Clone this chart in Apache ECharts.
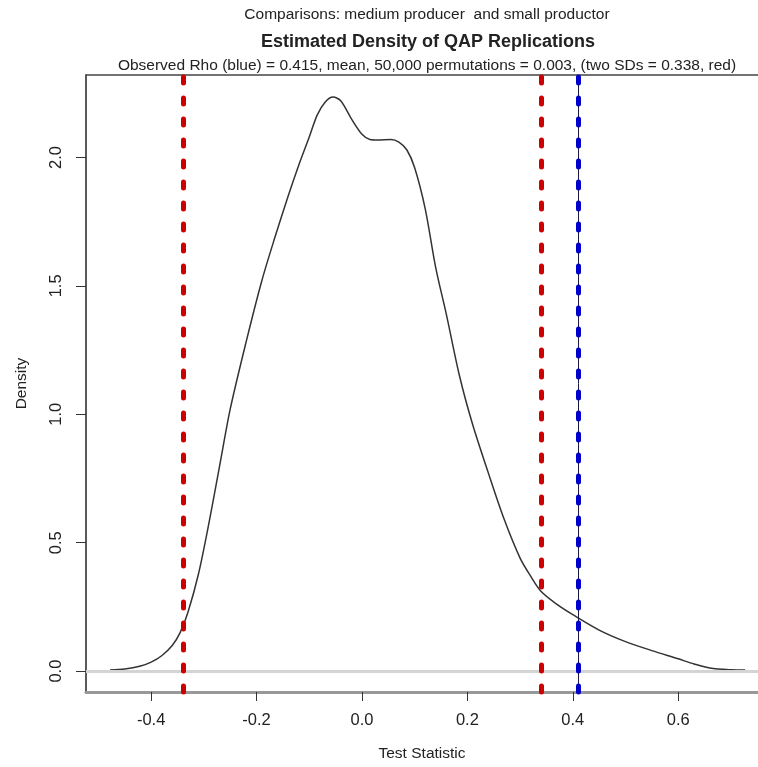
<!DOCTYPE html>
<html>
<head>
<meta charset="utf-8">
<script src="https://cdn.jsdelivr.net/npm/echarts@6/dist/echarts.min.js"></script>
<style>
  html, body { margin: 0; padding: 0; background: #fff; }
  #chart { width: 758px; height: 767px; }
</style>
</head>
<body>
<div id="chart"></div>
<script>
// density estimate
const densityX = [-0.478, -0.45, -0.42, -0.40, -0.38, -0.36, -0.345, -0.33, -0.31, -0.29,
  -0.27, -0.25, -0.22, -0.19, -0.165, -0.14, -0.12, -0.10, -0.085, -0.07,
  -0.055, -0.04, -0.02, 0.0, 0.015, 0.03, 0.055, 0.07, 0.085, 0.10,
  0.12, 0.14, 0.16, 0.185, 0.21, 0.24, 0.27, 0.30, 0.32, 0.34,
  0.37, 0.40, 0.45, 0.50, 0.55, 0.60, 0.63, 0.66, 0.70, 0.727];
const densityY = [0.004, 0.008, 0.02, 0.035, 0.06, 0.10, 0.15, 0.23, 0.38, 0.58,
  0.80, 1.02, 1.28, 1.52, 1.69, 1.85, 1.97, 2.08, 2.165, 2.215,
  2.235, 2.22, 2.15, 2.09, 2.07, 2.068, 2.07, 2.06, 2.03, 1.96,
  1.80, 1.57, 1.39, 1.15, 0.96, 0.77, 0.59, 0.44, 0.37, 0.31,
  0.26, 0.22, 0.16, 0.115, 0.08, 0.048, 0.028, 0.012, 0.005, 0.004];

const redLines = [-0.338, 0.338];   // two SDs
const blueLine = 0.415;             // observed rho
const xTicks = [-0.4, -0.2, 0.0, 0.2, 0.4, 0.6];
const yTicks = [0.0, 0.5, 1.0, 1.5, 2.0];

const font = '"Liberation Sans", Arial, sans-serif';
const textColor = '#222';

const chart = echarts.init(document.getElementById('chart'));

const xMin = -0.5236, xMax = 0.7514;

chart.setOption({
  animation: false,
  backgroundColor: '#fff',
  grid: { left: 86, top: 75, right: 0, bottom: 71, show: false },
  graphic: [
    {
      type: 'text', x: 427, y: 15,
      style: { text: 'Comparisons: medium producer  and small productor', font: '15.5px ' + font,
        fill: textColor, textAlign: 'center', textVerticalAlign: 'middle' }
    },
    {
      type: 'text', x: 428, y: 42,
      style: { text: 'Estimated Density of QAP Replications', font: 'bold 18px ' + font,
        fill: textColor, textAlign: 'center', textVerticalAlign: 'middle' }
    },
    {
      type: 'text', x: 427, y: 66,
      style: { text: 'Observed Rho (blue) = 0.415, mean, 50,000 permutations = 0.003, (two SDs = 0.338, red)',
        font: '15.5px ' + font, fill: textColor, textAlign: 'center', textVerticalAlign: 'middle' }
    }
  ],
  xAxis: [
    {
      type: 'value', min: xMin, max: xMax,
      name: 'Test Statistic', nameLocation: 'middle', nameGap: 54,
      nameTextStyle: { fontFamily: font, fontSize: 15.5, color: textColor },
      splitLine: { show: false },
      axisLine: { show: true, onZero: false, lineStyle: { color: '#999', width: 3 } },
      axisTick: { show: true, length: 9, customValues: xTicks, lineStyle: { color: '#333', width: 1 } },
      axisLabel: {
        customValues: xTicks, margin: 20, fontFamily: font, fontSize: 16.5, color: textColor,
        formatter: v => v.toFixed(1)
      }
    },
    {
      type: 'value', min: xMin, max: xMax, position: 'top',
      splitLine: { show: false },
      axisLine: { show: true, onZero: false, lineStyle: { color: '#444', width: 1.5 } },
      axisTick: { show: false },
      axisLabel: { show: false }
    }
  ],
  yAxis: {
    type: 'value', min: -0.0812, max: 2.321,
    name: 'Density', nameLocation: 'middle', nameGap: 56, nameRotate: 90,
    nameTextStyle: { fontFamily: font, fontSize: 15.5, color: textColor },
    splitLine: { show: false },
    axisLine: { show: true, onZero: false, lineStyle: { color: '#222', width: 1.5 } },
    axisTick: { show: true, length: 10, customValues: yTicks, lineStyle: { color: '#333', width: 1 } },
    axisLabel: {
      customValues: yTicks, rotate: 90, margin: 21, fontFamily: font, fontSize: 16.5, color: textColor,
      formatter: v => v.toFixed(1)
    }
  },
  series: [
    {
      type: 'line',
      data: densityX.map((x, i) => [x, densityY[i]]),
      smooth: 0.3,
      symbol: 'none',
      lineStyle: { color: '#333', width: 1.5 },
      z: 3,
      markLine: {
        silent: true, symbol: 'none', label: { show: false },
        data: [
          { yAxis: 0, lineStyle: { color: '#d4d4d4', width: 3, type: 'solid' } }
        ]
      }
    },
    {
      type: 'line', data: [], z: 4,
      markLine: {
        silent: true, symbol: 'none', label: { show: false },
        data: [
          ...redLines.map(v => ({ xAxis: v, lineStyle: { color: '#cc0000', width: 5, type: [6, 15], cap: 'round' } })),
          { xAxis: blueLine, lineStyle: { color: '#1a1a40', width: 1, type: 'solid' } },
          { xAxis: blueLine, lineStyle: { color: '#0000cc', width: 5, type: [6, 15], cap: 'round' } }
        ]
      }
    }
  ]
});
</script>
</body>
</html>
